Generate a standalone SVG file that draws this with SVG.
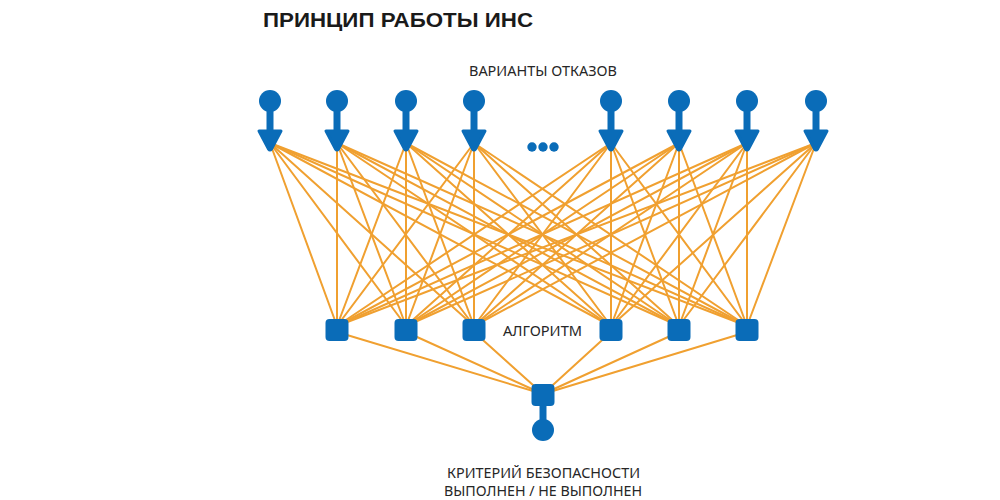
<svg xmlns="http://www.w3.org/2000/svg" width="1000" height="500" viewBox="0 0 1000 500">
<defs>
<style>
.t{font-family:"Noto Sans","Liberation Sans",sans-serif;fill:#262626;}
.title{font-family:"Liberation Sans","Noto Sans",sans-serif;font-weight:bold;font-size:21px;fill:#1a1a1a;}
.lbl{font-size:15px;}
.c line{stroke:#f0a030;stroke-width:2;stroke-linecap:round;}
.b{fill:#0a6cb8;}
.stem{stroke:#0a6cb8;stroke-width:7;}
</style>
<g id="inp">
<circle class="b" cx="0" cy="101" r="11"/>
<line class="stem" x1="0" y1="101" x2="0" y2="134"/>
<path class="b" d="M-11,131 L11,131 L1.5,149 Q0,151 -1.5,149 Z" stroke="#0a6cb8" stroke-width="3" stroke-linejoin="round"/>
</g>
</defs>
<rect width="1000" height="500" fill="#fff"/>
<text class="title" x="263" y="27" textLength="270" lengthAdjust="spacingAndGlyphs">ПРИНЦИП РАБОТЫ ИНС</text>
<text class="t lbl" x="469" y="76" textLength="148" lengthAdjust="spacingAndGlyphs">ВАРИАНТЫ ОТКАЗОВ</text>
<text class="t lbl" x="503" y="336" textLength="79" lengthAdjust="spacingAndGlyphs">АЛГОРИТМ</text>
<text class="t lbl" x="447" y="478" textLength="193" lengthAdjust="spacingAndGlyphs">КРИТЕРИЙ БЕЗОПАСНОСТИ</text>
<text class="t lbl" x="444" y="496" textLength="198" lengthAdjust="spacingAndGlyphs">ВЫПОЛНЕН / НЕ ВЫПОЛНЕН</text>
<g id="connectors" class="c">
<line x1="270" y1="143" x2="337" y2="326"/><line x1="270" y1="143" x2="406" y2="326"/><line x1="270" y1="143" x2="474" y2="326"/><line x1="270" y1="143" x2="611" y2="326"/><line x1="270" y1="143" x2="679" y2="326"/><line x1="270" y1="143" x2="747" y2="326"/>
<line x1="337" y1="143" x2="337" y2="326"/><line x1="337" y1="143" x2="406" y2="326"/><line x1="337" y1="143" x2="474" y2="326"/><line x1="337" y1="143" x2="611" y2="326"/><line x1="337" y1="143" x2="679" y2="326"/><line x1="337" y1="143" x2="747" y2="326"/>
<line x1="406" y1="143" x2="337" y2="326"/><line x1="406" y1="143" x2="406" y2="326"/><line x1="406" y1="143" x2="474" y2="326"/><line x1="406" y1="143" x2="611" y2="326"/><line x1="406" y1="143" x2="679" y2="326"/><line x1="406" y1="143" x2="747" y2="326"/>
<line x1="474" y1="143" x2="337" y2="326"/><line x1="474" y1="143" x2="406" y2="326"/><line x1="474" y1="143" x2="474" y2="326"/><line x1="474" y1="143" x2="611" y2="326"/><line x1="474" y1="143" x2="679" y2="326"/><line x1="474" y1="143" x2="747" y2="326"/>
<line x1="611" y1="143" x2="337" y2="326"/><line x1="611" y1="143" x2="406" y2="326"/><line x1="611" y1="143" x2="474" y2="326"/><line x1="611" y1="143" x2="611" y2="326"/><line x1="611" y1="143" x2="679" y2="326"/><line x1="611" y1="143" x2="747" y2="326"/>
<line x1="679" y1="143" x2="337" y2="326"/><line x1="679" y1="143" x2="406" y2="326"/><line x1="679" y1="143" x2="474" y2="326"/><line x1="679" y1="143" x2="611" y2="326"/><line x1="679" y1="143" x2="679" y2="326"/><line x1="679" y1="143" x2="747" y2="326"/>
<line x1="747" y1="143" x2="337" y2="326"/><line x1="747" y1="143" x2="406" y2="326"/><line x1="747" y1="143" x2="474" y2="326"/><line x1="747" y1="143" x2="611" y2="326"/><line x1="747" y1="143" x2="679" y2="326"/><line x1="747" y1="143" x2="747" y2="326"/>
<line x1="816" y1="143" x2="337" y2="326"/><line x1="816" y1="143" x2="406" y2="326"/><line x1="816" y1="143" x2="474" y2="326"/><line x1="816" y1="143" x2="611" y2="326"/><line x1="816" y1="143" x2="679" y2="326"/><line x1="816" y1="143" x2="747" y2="326"/>
<line x1="337" y1="332" x2="543" y2="394"/><line x1="406" y1="332" x2="543" y2="394"/><line x1="474" y1="332" x2="543" y2="394"/><line x1="611" y1="332" x2="543" y2="394"/><line x1="679" y1="332" x2="543" y2="394"/><line x1="747" y1="332" x2="543" y2="394"/>
</g>
<g id="inputs">
<use id="in1" href="#inp" x="270"/>
<use id="in2" href="#inp" x="337"/>
<use id="in3" href="#inp" x="406"/>
<use id="in4" href="#inp" x="474"/>
<use id="in5" href="#inp" x="611"/>
<use id="in6" href="#inp" x="679"/>
<use id="in7" href="#inp" x="747"/>
<use id="in8" href="#inp" x="816"/>
</g>
<g id="ellipsis" class="b">
<circle cx="532" cy="147" r="4.7"/><circle cx="543" cy="147" r="4.7"/><circle cx="554" cy="147" r="4.7"/>
</g>
<g id="algo">
<rect id="a1" class="b" x="325.5" y="319" width="23" height="22" rx="4"/>
<rect id="a2" class="b" x="394.5" y="319" width="23" height="22" rx="4"/>
<rect id="a3" class="b" x="462.5" y="319" width="23" height="22" rx="4"/>
<rect id="a4" class="b" x="599.5" y="319" width="23" height="22" rx="4"/>
<rect id="a5" class="b" x="667.5" y="319" width="23" height="22" rx="4"/>
<rect id="a6" class="b" x="735.5" y="319" width="23" height="22" rx="4"/>
</g>
<g id="output">
<line class="stem" x1="543" y1="400" x2="543" y2="430"/>
<rect class="b" x="531.5" y="384" width="23" height="22" rx="4"/>
<circle class="b" cx="543" cy="430" r="11"/>
</g>
</svg>
